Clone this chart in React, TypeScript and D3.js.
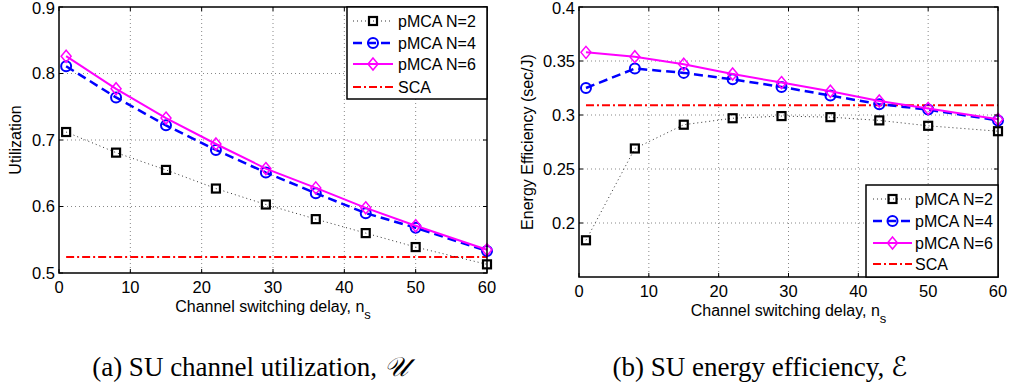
import * as d3 from "d3";

const delays = [1, 8, 15, 22, 29, 36, 43, 50, 60];
const xTicks = [0, 10, 20, 30, 40, 50, 60];

// (a) utilization
const utilN2 = [0.712, 0.681, 0.655, 0.627, 0.603, 0.581, 0.560, 0.539, 0.513];
const utilN4 = [0.811, 0.764, 0.722, 0.685, 0.651, 0.620, 0.590, 0.568, 0.533];
const utilN6 = [0.826, 0.777, 0.733, 0.694, 0.657, 0.628, 0.598, 0.571, 0.535];
const utilSCA = 0.524;
const utilTicks = [0.5, 0.6, 0.7, 0.8, 0.9];

// (b) energy efficiency
const eeN2 = [0.184, 0.269, 0.291, 0.297, 0.299, 0.298, 0.295, 0.290, 0.285];
const eeN4 = [0.325, 0.343, 0.339, 0.333, 0.326, 0.318, 0.310, 0.305, 0.295];
const eeN6 = [0.358, 0.354, 0.347, 0.338, 0.330, 0.322, 0.313, 0.306, 0.296];
const eeSCA = 0.309;
const eeTicks = [0.2, 0.25, 0.3, 0.35, 0.4];

const seriesNames = ["pMCA N=2", "pMCA N=4", "pMCA N=6", "SCA"];

const SANS = "'Liberation Sans', Arial, Helvetica, sans-serif";

type Style = { color: string; width: number; dash: string; marker: string };
const styles: Style[] = [
  { color: "#333", width: 1, dash: "1,3", marker: "square" },
  { color: "#0000ff", width: 2.5, dash: "9,5", marker: "circle" },
  { color: "#ff00ff", width: 2, dash: "", marker: "diamond" },
  { color: "#ff0000", width: 2, dash: "8,3,2,3", marker: "none" },
];

function Marker({ kind, x, y }: { kind: string; x: number; y: number }) {
  if (kind === "square")
    return <rect x={x - 4} y={y - 4} width={8} height={8} fill="none" stroke="#000" strokeWidth={2.2} />;
  if (kind === "circle")
    return <circle cx={x} cy={y} r={5} fill="none" stroke="#0000ff" strokeWidth={2} />;
  if (kind === "diamond")
    return (
      <path
        d={`M${x},${y - 6}L${x + 5},${y}L${x},${y + 6}L${x - 5},${y}Z`}
        fill="none"
        stroke="#ff00ff"
        strokeWidth={1.5}
      />
    );
  return null;
}

type PanelProps = {
  left: number;
  right: number;
  top: number;
  bottom: number;
  yDomain: [number, number];
  yTicks: number[];
  series: number[][];
  sca: number;
  ylabel: string;
  ylabelX: number;
  legend: { x0: number; x1: number; y0: number; y1: number; rows: number[]; sample: [number, number]; textX: number };
};

function Panel(p: PanelProps) {
  const x = d3.scaleLinear().domain([0, 60]).range([p.left, p.right]);
  const y = d3.scaleLinear().domain(p.yDomain).range([p.bottom, p.top]);
  const line = d3
    .line<number>()
    .x((_, i) => x(delays[i]))
    .y((d) => y(d));
  const fmt = (v: number) => String(+v.toFixed(2));
  const lg = p.legend;
  return (
    <g fontFamily={SANS}>
      {/* grid */}
      {xTicks.slice(1, -1).map((t) => (
        <line key={"gx" + t} x1={x(t)} x2={x(t)} y1={p.top} y2={p.bottom} stroke="#888" strokeWidth={1} strokeDasharray="1,3" />
      ))}
      {p.yTicks
        .filter((t) => t > p.yDomain[0] && t < p.yDomain[1])
        .map((t) => (
          <line key={"gy" + t} x1={p.left} x2={p.right} y1={y(t)} y2={y(t)} stroke="#888" strokeWidth={1} strokeDasharray="1,3" />
        ))}
      {/* SCA */}
      <line
        x1={x(delays[0])}
        x2={x(delays[delays.length - 1])}
        y1={y(p.sca)}
        y2={y(p.sca)}
        stroke={styles[3].color}
        strokeWidth={styles[3].width}
        strokeDasharray={styles[3].dash}
      />
      {p.series.map((s, k) => (
        <g key={k}>
          <path d={line(s) || ""} fill="none" stroke={styles[k].color} strokeWidth={styles[k].width} strokeDasharray={styles[k].dash} />
          {s.map((v, i) => (
            <Marker key={i} kind={styles[k].marker} x={x(delays[i])} y={y(v)} />
          ))}
        </g>
      ))}
      {/* box and ticks */}
      <rect x={p.left} y={p.top} width={p.right - p.left} height={p.bottom - p.top} fill="none" stroke="#000" strokeWidth={1.5} />
      {xTicks.map((t) => (
        <g key={"tx" + t}>
          <line x1={x(t)} x2={x(t)} y1={p.bottom} y2={p.bottom - 4} stroke="#000" />
          <line x1={x(t)} x2={x(t)} y1={p.top} y2={p.top + 4} stroke="#000" />
          <text x={x(t)} y={p.bottom + 20} fontSize={16.5} textAnchor="middle">
            {t}
          </text>
        </g>
      ))}
      {p.yTicks.map((t) => (
        <g key={"ty" + t}>
          <line x1={p.left} x2={p.left + 4} y1={y(t)} y2={y(t)} stroke="#000" />
          <line x1={p.right} x2={p.right - 4} y1={y(t)} y2={y(t)} stroke="#000" />
          <text x={p.left - 4} y={Math.max(y(t), p.top + 1.5)} dy="0.35em" fontSize={16.5} textAnchor="end">
            {fmt(t)}
          </text>
        </g>
      ))}
      <text
        transform={`translate(${p.ylabelX},${(p.top + p.bottom) / 2}) rotate(-90)`}
        fontSize={16}
        textAnchor="middle"
        dy="0.35em"
      >
        {p.ylabel}
      </text>
      <text x={(p.left + p.right) / 2} y={p.bottom + 39} fontSize={16} textAnchor="middle">
        Channel switching delay, n
        <tspan dy={7} fontSize={13}>
          s
        </tspan>
      </text>
      {/* legend */}
      <rect x={lg.x0} y={lg.y0} width={lg.x1 - lg.x0} height={lg.y1 - lg.y0} fill="#fff" stroke="#000" strokeWidth={1.5} />
      {seriesNames.map((name, k) => {
        const ry = lg.rows[k];
        const mid = (lg.sample[0] + lg.sample[1]) / 2;
        return (
          <g key={name}>
            <line
              x1={lg.sample[0]}
              x2={lg.sample[1]}
              y1={ry}
              y2={ry}
              stroke={styles[k].color}
              strokeWidth={styles[k].width}
              strokeDasharray={styles[k].dash}
            />
            <Marker kind={styles[k].marker} x={mid} y={ry} />
            <text x={lg.textX} y={ry} dy="0.35em" fontSize={16}>
              {name}
            </text>
          </g>
        );
      })}
    </g>
  );
}

export default function App() {
  return (
    <svg width={1011} height={388} style={{ position: "absolute", left: 0, top: 0, background: "#fff" }}>
      <Panel
        left={59}
        right={487}
        top={7}
        bottom={273}
        yDomain={[0.5, 0.9]}
        yTicks={utilTicks}
        series={[utilN2, utilN4, utilN6]}
        sca={utilSCA}
        ylabel="Utilization"
        ylabelX={15}
        legend={{ x0: 347, x1: 487, y0: 7, y1: 99, rows: [21, 43, 64, 87], sample: [353, 393], textX: 398 }}
      />
      <Panel
        left={579}
        right={998}
        top={7}
        bottom={277}
        yDomain={[0.15, 0.4]}
        yTicks={eeTicks}
        series={[eeN2, eeN4, eeN6]}
        sca={eeSCA}
        ylabel="Energy Efficiency (sec/J)"
        ylabelX={527}
        legend={{ x0: 866, x1: 998, y0: 185, y1: 277, rows: [199, 221, 243, 264], sample: [873, 912], textX: 915 }}
      />
      <g fontFamily="'Liberation Serif', 'Times New Roman', serif" fontSize={27}>
        <text x={250} y={376} textAnchor="middle">
          (a) SU channel utilization, <tspan fontFamily="'DejaVu Serif', 'DejaVu Sans', serif" fontStyle="italic">𝒰</tspan>
        </text>
        <text x={760} y={376} textAnchor="middle">
          (b) SU energy efficiency, <tspan fontFamily="'DejaVu Serif', 'DejaVu Sans', serif" fontStyle="italic">ℰ</tspan>
        </text>
      </g>
    </svg>
  );
}
